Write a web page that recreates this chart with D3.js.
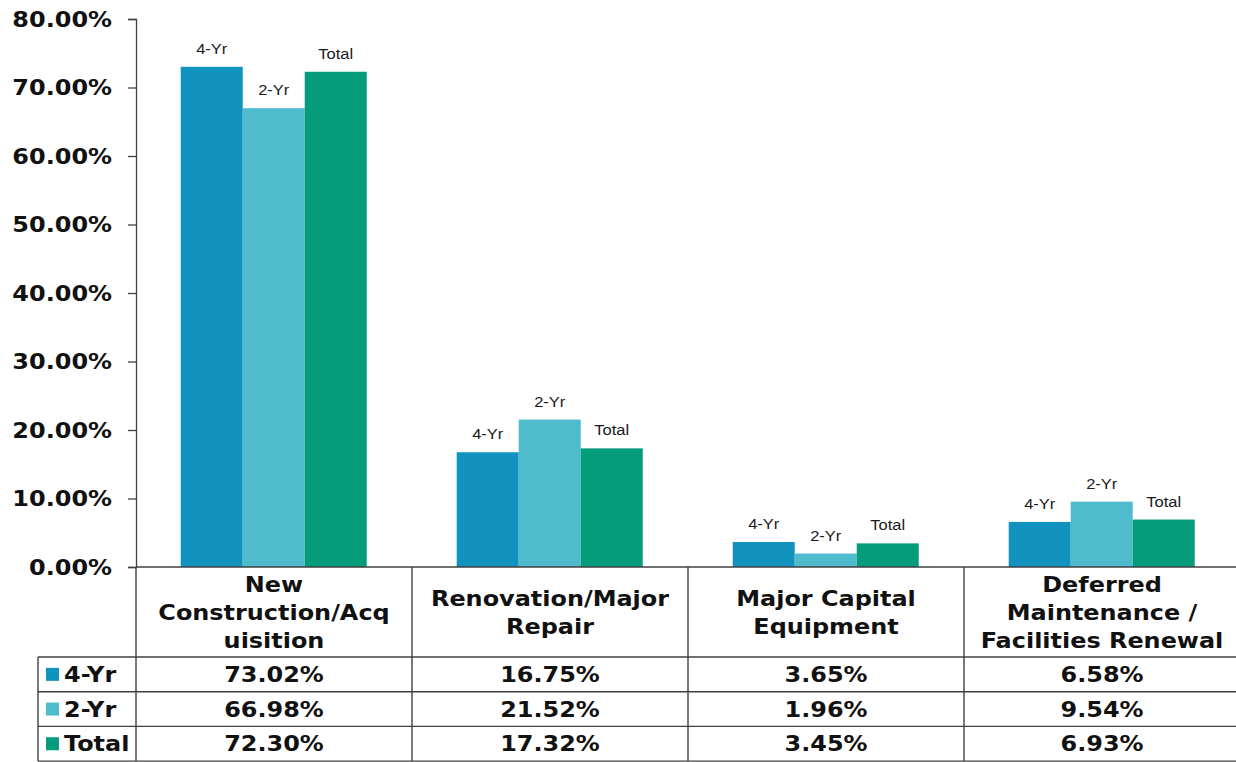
<!DOCTYPE html>
<html lang="en">
<head>
<meta charset="utf-8">
<title>Capital spending by category</title>
<style>
  body { margin: 0; background: #fff; }
  .bold { font-family: "DejaVu Sans", Verdana, sans-serif; font-weight: bold; fill: #111; }
  .barlabel { font-family: "Liberation Sans", Arial, sans-serif; fill: #1a1a1a; }
  .grid line, .grid path { stroke: #404040; }
</style>
</head>
<body>
<div id="chart"></div>
<script src="https://d3js.org/d3.v7.min.js"></script>
<script>
// categories and the header text for each (wrapped like the original)
var categories = ["New Construction/Acquisition", "Renovation/Major Repair", "Major Capital Equipment", "Deferred Maintenance / Facilities Renewal"];
var headerLines = [
  ["New", "Construction/Acq", "uisition"],
  ["Renovation/Major", "Repair"],
  ["Major Capital", "Equipment"],
  ["Deferred", "Maintenance /", "Facilities Renewal"]
];
var seriesNames = ["4-Yr", "2-Yr", "Total"];
var seriesColors = ["#1192bf", "#4ebccd", "#049c7b"];
var fourYr = [73.02, 16.75, 3.65, 6.58];
var twoYr = [66.98, 21.52, 1.96, 9.54];
var total = [72.30, 17.32, 3.45, 6.93];
var yTicks = [0, 10, 20, 30, 40, 50, 60, 70, 80];

var seriesValues = [fourYr, twoYr, total];

var width = 1236, height = 762;
var plotLeft = 136, plotRight = 1240, plotTop = 19, plotBottom = 567;
var tableLeft = 38;
var headerBottom = 657, rowH = 34.7;
var sx = 1.14; // the original text is a bit wider than DejaVu

var svg = d3.select("#chart").append("svg")
    .attr("width", width)
    .attr("height", height);

// scales
var x0 = d3.scaleBand().domain(categories).range([plotLeft, plotRight]).padding(0);
var bw = x0.bandwidth();
var x1 = d3.scaleBand().domain(seriesNames).range([bw * 0.162, bw * 0.836]).padding(0);
var y = d3.scaleLinear().domain([0, 80]).range([plotBottom, plotTop]);

// y axis
var yAxis = d3.axisLeft(y).tickValues(yTicks).tickSize(8).tickFormat(function(d) { return ""; });
svg.append("g")
    .attr("class", "grid")
    .attr("transform", "translate(" + plotLeft + ",0)")
    .call(yAxis)
    .call(function(g) { g.select(".domain").attr("stroke-width", 1.3); })
    .call(function(g) { g.selectAll(".tick line").attr("stroke-width", 1.3); });

// y tick labels (stretched a little horizontally)
svg.selectAll(".ylab")
    .data(yTicks)
  .enter().append("text")
    .attr("class", "bold")
    .attr("transform", function(d) { return "translate(112," + (y(d) + 7.5) + ") scale(" + sx + ",1)"; })
    .attr("text-anchor", "end")
    .style("font-size", "21px")
    .text(function(d) { return d.toFixed(2) + "%"; });

// bars
var groups = svg.selectAll(".cat")
    .data(categories)
  .enter().append("g")
    .attr("transform", function(d) { return "translate(" + x0(d) + ",0)"; });

groups.selectAll("rect")
    .data(function(d, i) { return seriesNames.map(function(s, j) { return {s: s, j: j, v: seriesValues[j][i]}; }); })
  .enter().append("rect")
    .attr("x", function(d) { return x1(d.s); })
    .attr("width", x1.bandwidth())
    .attr("y", function(d) { return y(d.v); })
    .attr("height", function(d) { return y(0) - y(d.v); })
    .attr("fill", function(d) { return seriesColors[d.j]; });

// series name above each bar
groups.selectAll(".barlabel")
    .data(function(d, i) { return seriesNames.map(function(s, j) { return {s: s, j: j, v: seriesValues[j][i]}; }); })
  .enter().append("text")
    .attr("class", "barlabel")
    .attr("transform", function(d) { return "translate(" + (x1(d.s) + x1.bandwidth() / 2) + "," + (y(d.v) - 13) + ") scale(1.1,1)"; })
    .attr("text-anchor", "middle")
    .style("font-size", "15px")
    .text(function(d) { return d.s; });

// data table lines
var tableBottom = headerBottom + rowH * 3;
var lines = svg.append("g").attr("stroke", "#404040").attr("stroke-width", 1.4);
lines.append("line").attr("x1", plotLeft).attr("x2", plotRight).attr("y1", plotBottom).attr("y2", plotBottom);
[0, 1, 2, 3].forEach(function(r) {
  var yy = headerBottom + rowH * r;
  lines.append("line").attr("x1", tableLeft).attr("x2", plotRight).attr("y1", yy).attr("y2", yy);
});
lines.append("line").attr("x1", tableLeft).attr("x2", tableLeft).attr("y1", headerBottom).attr("y2", tableBottom);
lines.selectAll(".vline")
    .data(categories.concat(["end"]))
  .enter().append("line")
    .attr("x1", function(d) { return d === "end" ? plotRight : x0(d); })
    .attr("x2", function(d) { return d === "end" ? plotRight : x0(d); })
    .attr("y1", plotBottom)
    .attr("y2", tableBottom);

// header text
var headerMid = (plotBottom + headerBottom) / 2;
categories.forEach(function(c, i) {
  var ls = headerLines[i];
  ls.forEach(function(t, k) {
    svg.append("text")
        .attr("class", "bold")
        .attr("transform", "translate(" + (x0(c) + bw / 2) + "," + (headerMid + 7.5 + (k - (ls.length - 1) / 2) * 28) + ") scale(" + sx + ",1)")
        .attr("text-anchor", "middle")
        .style("font-size", "21px")
        .text(t);
  });
});

// legend column and values
seriesNames.forEach(function(s, j) {
  var mid = headerBottom + rowH * j + rowH / 2;
  svg.append("rect")
      .attr("x", 46).attr("y", mid - 6.5)
      .attr("width", 13).attr("height", 13)
      .attr("fill", seriesColors[j]);
  svg.append("text")
      .attr("class", "bold")
      .attr("transform", "translate(64," + (mid + 7.5) + ") scale(" + sx + ",1)")
      .style("font-size", "21px")
      .text(s);
  categories.forEach(function(c, i) {
    svg.append("text")
        .attr("class", "bold")
        .attr("transform", "translate(" + (x0(c) + bw / 2) + "," + (mid + 7.5) + ") scale(" + sx + ",1)")
        .attr("text-anchor", "middle")
        .style("font-size", "21px")
        .text(seriesValues[j][i].toFixed(2) + "%");
  });
});
</script>
</body>
</html>
